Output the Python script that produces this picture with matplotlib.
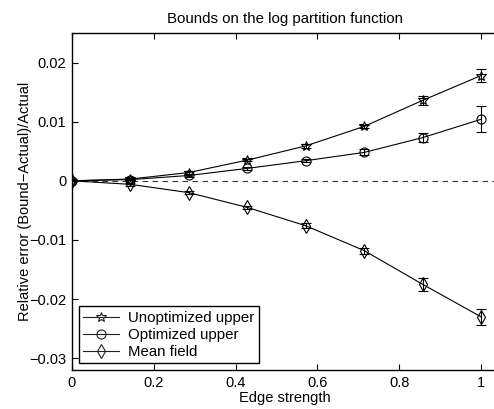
import matplotlib
matplotlib.use("Agg")
import matplotlib.pyplot as plt
from matplotlib.lines import Line2D
import numpy as np

plt.rcParams['font.family'] = ['Liberation Sans', 'DejaVu Sans']

edge_strength = [0, 1/7, 2/7, 3/7, 4/7, 5/7, 6/7, 1.0]
unopt_upper = [0.0, 0.0003, 0.0014, 0.0035, 0.0059, 0.0092, 0.0136, 0.0178]
unopt_err = [0.0, 0.0001, 0.0002, 0.0002, 0.0003, 0.0003, 0.0008, 0.0011]
opt_upper = [0.0, 0.0002, 0.0009, 0.0021, 0.0034, 0.0048, 0.0073, 0.0104]
opt_err = [0.0, 0.0001, 0.0002, 0.0003, 0.0003, 0.0005, 0.0008, 0.0022]
mean_field = [0.0, -0.0006, -0.0020, -0.0045, -0.0076, -0.0118, -0.0175, -0.0230]
mf_err = [0.0, 0.0002, 0.0002, 0.0003, 0.0004, 0.0005, 0.0011, 0.0014]

xticks = [0, 0.2, 0.4, 0.6, 0.8, 1.0]
xticklabels = ['0', '0.2', '0.4', '0.6', '0.8', '1']
yticks = [-0.03, -0.02, -0.01, 0, 0.01, 0.02]
yticklabels = ['\u22120.03', '\u22120.02', '\u22120.01', '0', '0.01', '0.02']

W, H = 494, 409
fig = plt.figure(figsize=(W / 100, H / 100), dpi=100)
ax = fig.add_axes([72 / W, (H - 370) / H, (W + 4 - 72) / W, (370 - 33) / H])

ax.axhline(0, color='#333333', lw=0.8, ls=(0, (5, 4)), zorder=1)

series = [
    (unopt_upper, unopt_err, '*', 'Unoptimized upper', 7.5),
    (opt_upper, opt_err, 'o', 'Optimized upper', 6.5),
    (mean_field, mf_err, 'd', 'Mean field', 7),
]
handles = []
for vals, errs, mk, lab, ms in series:
    ax.errorbar(edge_strength, vals, yerr=errs, color='black', lw=0.8,
                elinewidth=0.8, capsize=3.6, capthick=0.8,
                marker=mk, markersize=ms, markerfacecolor='none',
                markeredgecolor='black', markeredgewidth=0.8, zorder=3)
    handles.append(Line2D([], [], color='#222222', lw=0.8, marker=mk, markersize=ms,
                          markerfacecolor='none', markeredgecolor='#222222',
                          markeredgewidth=0.8, label=lab))

ax.set_xlim(0, (W + 4 - 72) / 409)
ax.set_ylim(-0.032, 0.025)
ax.set_xticks(xticks)
ax.set_xticklabels(xticklabels)
ax.set_yticks(yticks)
ax.set_yticklabels(yticklabels)
ax.tick_params(direction='in', top=True, right=False, labelsize=10.5, length=4, width=0.8, pad=4)
for s in ['left', 'bottom', 'top']:
    ax.spines[s].set_linewidth(1.0)
ax.spines['right'].set_visible(False)

ax.set_title('Bounds on the log partition function', fontsize=10.8, pad=7)
ax.set_xlabel('Edge strength', fontsize=10.5, labelpad=1)
ax.set_ylabel('Relative error (Bound\u2212Actual)/Actual', fontsize=10.5, labelpad=-2)

leg = ax.legend(handles=handles, loc='lower left', fontsize=10.8, frameon=True, fancybox=False,
                edgecolor='black', framealpha=1, handlelength=2.4,
                borderpad=0.3, labelspacing=0.2, handletextpad=0.6,
                borderaxespad=0.45)
leg.get_frame().set_linewidth(1.0)

fig.savefig('out.png', dpi=100)
